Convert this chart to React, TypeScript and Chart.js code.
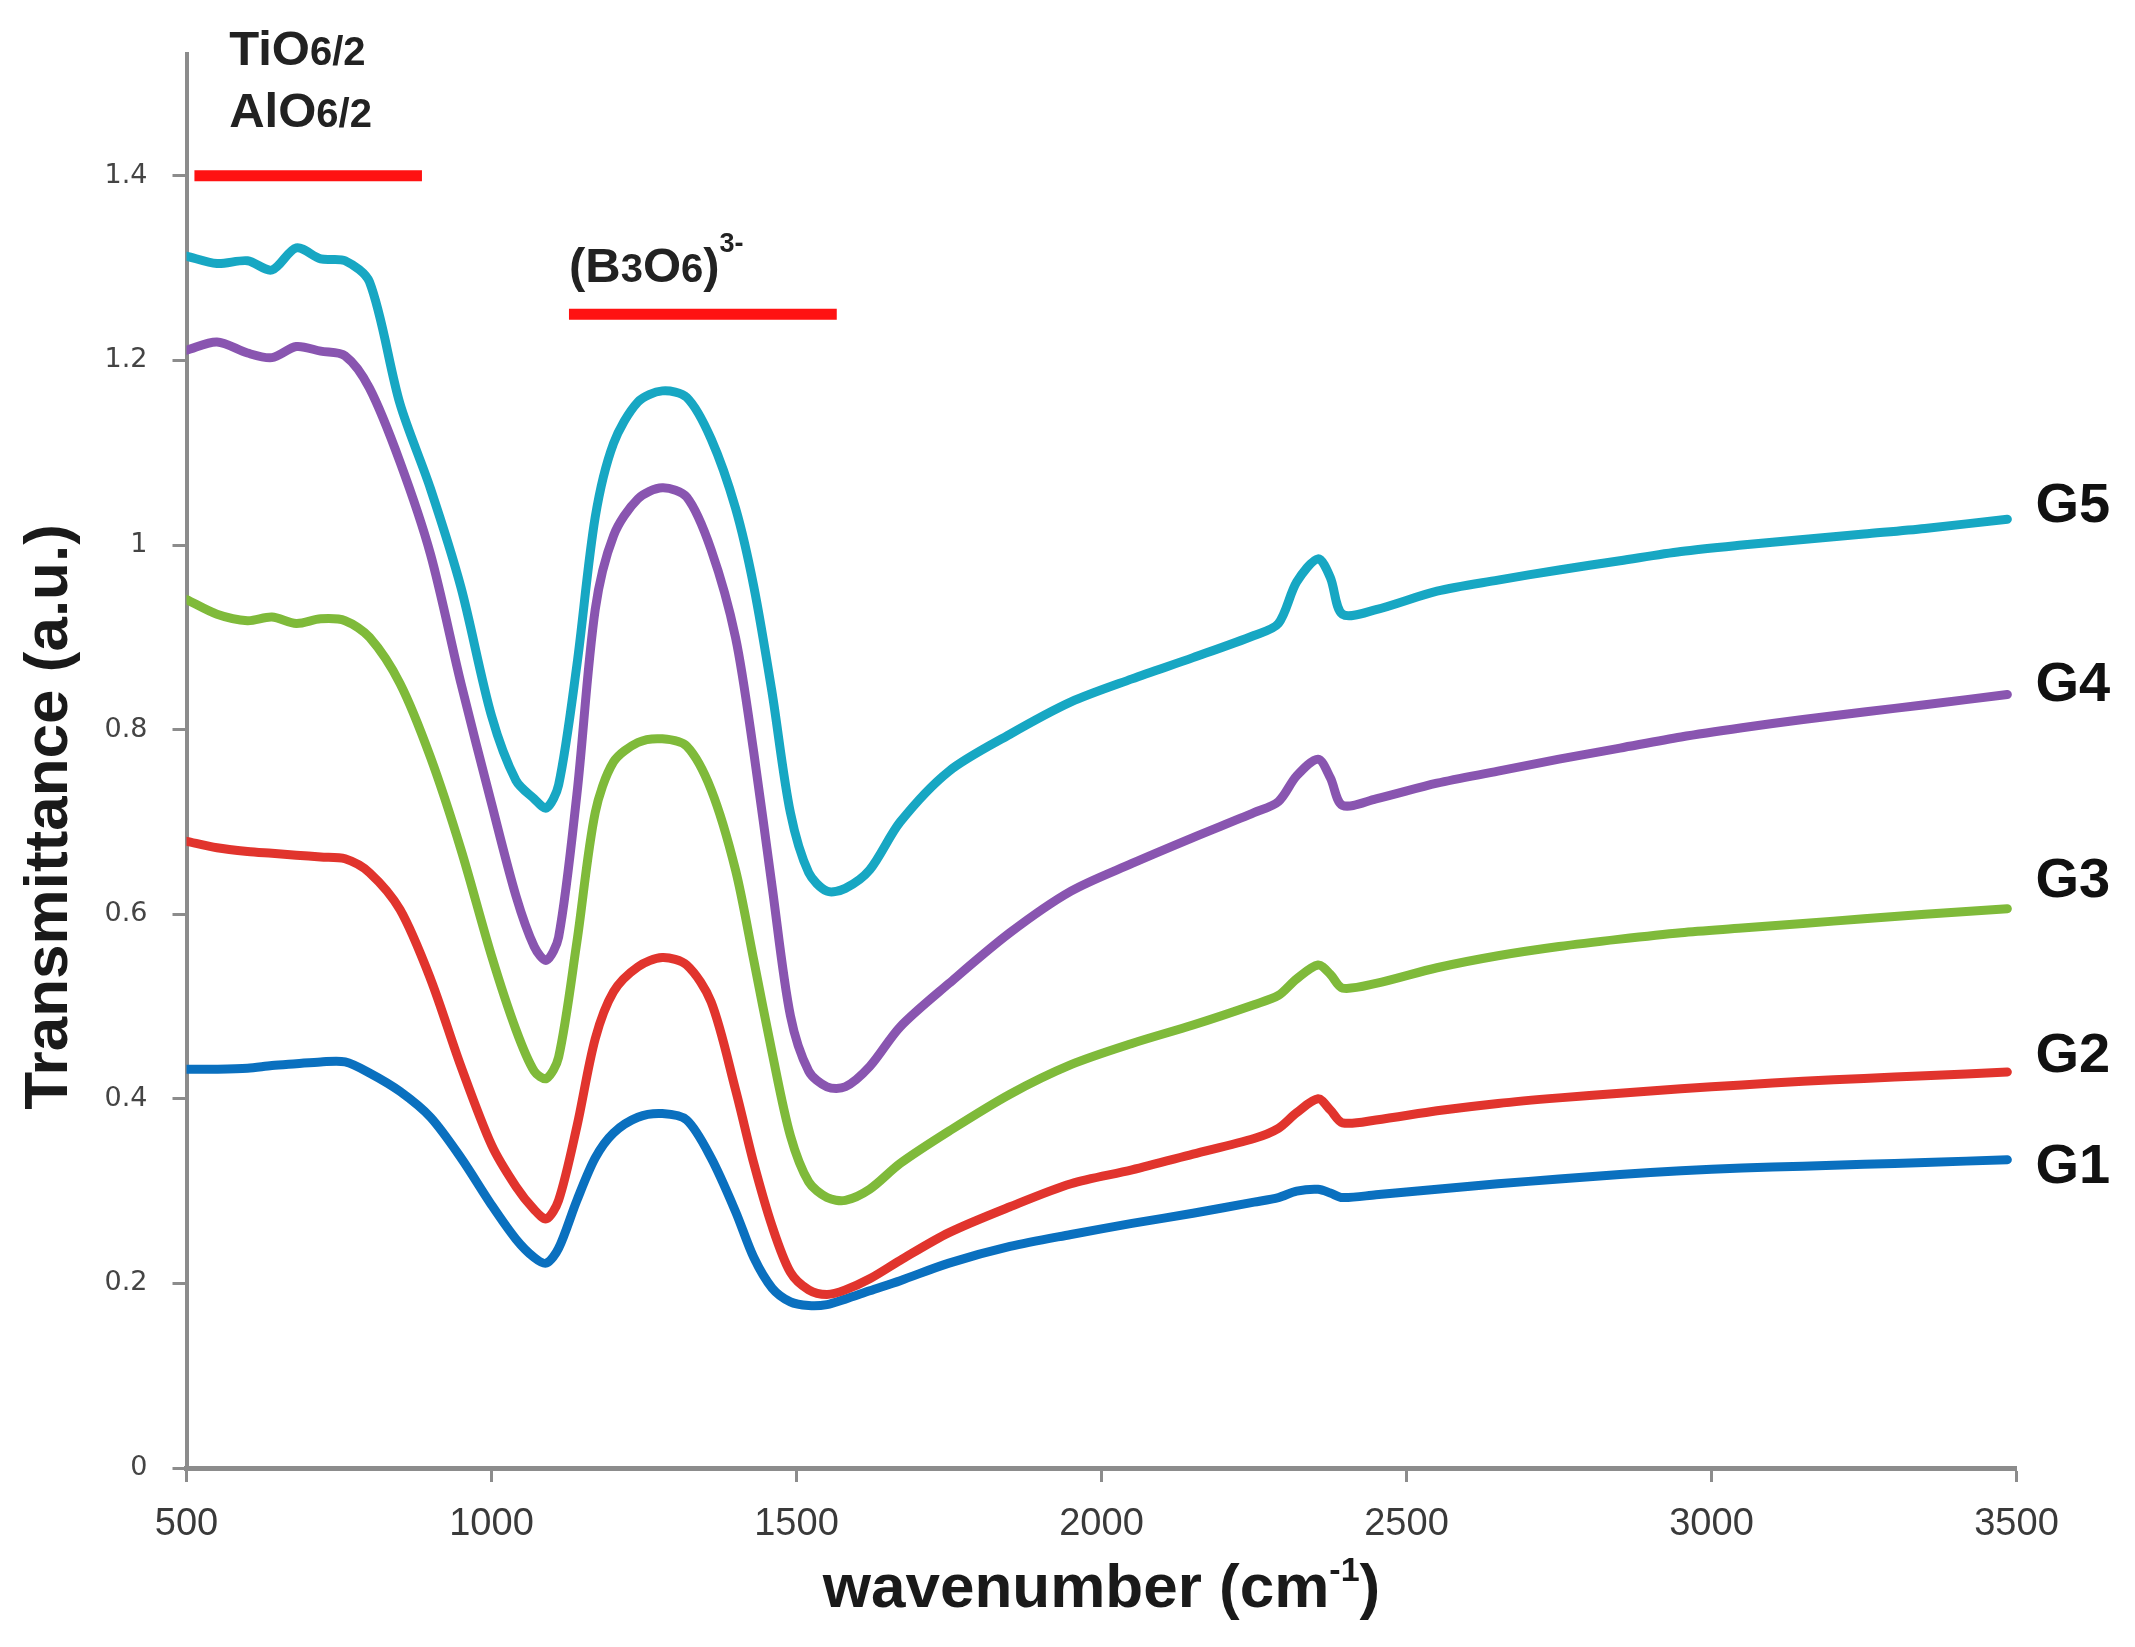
import React, { useEffect, useRef } from "react";
import { Chart, registerables } from "chart.js";

Chart.register(...registerables);

// ---------- data ----------
const WAVENUMBER = [
  500, 550, 600, 640, 680, 720, 760, 800, 850, 900, 950, 1000, 1040, 1070, 1090, 1110, 1140, 1170,
  1200, 1240, 1280, 1320, 1360, 1400, 1430, 1460, 1490, 1520, 1550, 1580, 1620, 1670, 1750, 1850,
  1950, 2050, 2150, 2250, 2290, 2320, 2355, 2375, 2395, 2450, 2550, 2650, 2750, 2850, 2950, 3050,
  3150, 3250, 3350, 3485,
];

const G5 = [
  1.313, 1.305, 1.308, 1.298, 1.322, 1.31, 1.308, 1.285, 1.153, 1.061, 0.954, 0.815, 0.745, 0.725,
  0.715, 0.74, 0.87, 1.03, 1.11, 1.155, 1.167, 1.16, 1.115, 1.04, 0.955, 0.84, 0.71, 0.645, 0.625,
  0.628, 0.648, 0.7, 0.755, 0.795, 0.83, 0.855, 0.878, 0.902, 0.915, 0.96, 0.985, 0.965, 0.925,
  0.93, 0.95, 0.962, 0.973, 0.983, 0.993, 1.0, 1.006, 1.012, 1.018, 1.028,
];

const G4 = [
  1.211, 1.22, 1.208, 1.203, 1.215, 1.21, 1.205, 1.17, 1.09, 0.99, 0.85, 0.72, 0.62, 0.565, 0.55,
  0.575, 0.73, 0.93, 1.01, 1.05, 1.062, 1.052, 0.995, 0.9, 0.775, 0.63, 0.49, 0.43, 0.413, 0.413,
  0.435, 0.478, 0.525, 0.58, 0.625, 0.655, 0.683, 0.71, 0.722, 0.75, 0.768, 0.748, 0.718, 0.725,
  0.742, 0.755, 0.768, 0.78, 0.792, 0.802, 0.811, 0.819, 0.827, 0.838,
];

const G3 = [
  0.941, 0.925, 0.918, 0.922, 0.915, 0.92, 0.918, 0.9, 0.85, 0.77, 0.67, 0.555, 0.475, 0.43, 0.422,
  0.445, 0.57, 0.71, 0.765, 0.786, 0.79, 0.782, 0.735, 0.648, 0.55, 0.45, 0.36, 0.31, 0.293, 0.29,
  0.302, 0.33, 0.365, 0.405, 0.437, 0.46, 0.48, 0.502, 0.512, 0.53, 0.545, 0.535, 0.52, 0.525,
  0.542, 0.555, 0.565, 0.573, 0.58, 0.585, 0.59, 0.595, 0.6, 0.606,
];

const G2 = [
  0.679, 0.672, 0.668, 0.666, 0.664, 0.662, 0.66, 0.645, 0.605, 0.53, 0.435, 0.35, 0.305, 0.28,
  0.27, 0.29, 0.37, 0.465, 0.516, 0.543, 0.553, 0.545, 0.505, 0.41, 0.33, 0.262, 0.212, 0.193,
  0.188, 0.193, 0.205, 0.225, 0.255, 0.283, 0.308, 0.323, 0.34, 0.357, 0.368, 0.385, 0.4, 0.388,
  0.374, 0.377, 0.387, 0.395, 0.401, 0.406, 0.411, 0.415, 0.419, 0.422, 0.425, 0.429,
];

const G1 = [
  0.432, 0.432, 0.433, 0.436, 0.438, 0.44, 0.44, 0.428, 0.408, 0.38, 0.336, 0.285, 0.248, 0.228,
  0.222, 0.238, 0.29, 0.336, 0.363, 0.38, 0.384, 0.377, 0.336, 0.278, 0.228, 0.195, 0.18, 0.176,
  0.177, 0.183, 0.192, 0.203, 0.222, 0.24, 0.253, 0.265, 0.276, 0.288, 0.293, 0.3, 0.302, 0.298,
  0.293, 0.296, 0.302, 0.308, 0.313, 0.318, 0.322, 0.325, 0.327, 0.329, 0.331, 0.334,
];

const SERIES_NAMES = ["G5", "G4", "G3", "G2", "G1"];
const SERIES_VALUES = [G5, G4, G3, G2, G1];
const SERIES_COLORS = ["#17a7c3", "#8955b0", "#7fba3a", "#e1342d", "#0a70bf"];
const SERIES_LABEL_Y = [1.042, 0.848, 0.635, 0.446, 0.325];

const X_MIN = 500;
const X_MAX = 3500;
const X_STEP = 500;
const Y_MIN = 0;
const Y_MAX = 1.532;
const Y_TICKS = [0, 0.2, 0.4, 0.6, 0.8, 1, 1.2, 1.4];

// band annotations (red bars)
const BAND_X_START = [513, 1127];
const BAND_X_END = [886, 1566];
const BAND_Y = [1.4, 1.25];

// text annotations: rich parts (kind: n = normal, sub = small on baseline, sup = superscript)
const ANNOT_TEXTS = [
  [{ t: "TiO", k: "n" }, { t: "6/2", k: "sub" }],
  [{ t: "AlO", k: "n" }, { t: "6/2", k: "sub" }],
  [
    { t: "(B", k: "n" },
    { t: "3", k: "sub" },
    { t: "O", k: "n" },
    { t: "6", k: "sub" },
    { t: ")", k: "n" },
    { t: "3-", k: "sup" },
  ],
];
const ANNOT_X = [570, 570, 1127];
const ANNOT_Y = [1.52, 1.453, 1.285];

const X_TITLE = [
  { t: "wavenumber (cm", k: "n" },
  { t: "-1", k: "sup" },
  { t: ")", k: "n" },
];
const Y_TITLE = "Transmittance (a.u.)";

const SANS = '"Liberation Sans", Arial, Helvetica, sans-serif';
const NARROW = '"Liberation Sans Narrow", "Arial Narrow", "Liberation Sans", Arial, sans-serif';

type Part = { t: string; k: string };

function drawRich(
  ctx: CanvasRenderingContext2D,
  parts: Part[],
  x: number,
  y: number,
  sizes: { n: number; sub: number; sup: number; supDy: number },
  weight: string,
  align: "left" | "center"
) {
  const fontFor = (k: string) =>
    `${weight} ${k === "n" ? sizes.n : k === "sub" ? sizes.sub : sizes.sup}px ${SANS}`;
  let total = 0;
  for (const p of parts) {
    ctx.font = fontFor(p.k);
    total += ctx.measureText(p.t).width;
  }
  let cx = align === "center" ? x - total / 2 : x;
  ctx.textAlign = "left";
  ctx.textBaseline = "alphabetic";
  for (const p of parts) {
    ctx.font = fontFor(p.k);
    const dy = p.k === "sup" ? sizes.supDy : 0;
    ctx.fillText(p.t, cx, y + dy);
    cx += ctx.measureText(p.t).width;
  }
}

const overlayPlugin = {
  id: "overlay",
  afterDraw(chart: any) {
    const { ctx, chartArea } = chart;
    const xs = chart.scales.x;
    const ys = chart.scales.y;
    ctx.save();

    // red bars
    ctx.strokeStyle = "#ff1212";
    ctx.lineWidth = 11;
    ctx.lineCap = "butt";
    for (let i = 0; i < BAND_Y.length; i++) {
      const py = ys.getPixelForValue(BAND_Y[i]);
      ctx.beginPath();
      ctx.moveTo(xs.getPixelForValue(BAND_X_START[i]), py);
      ctx.lineTo(xs.getPixelForValue(BAND_X_END[i]), py);
      ctx.stroke();
    }

    // annotation texts
    ctx.fillStyle = "#222222";
    for (let i = 0; i < ANNOT_TEXTS.length; i++) {
      drawRich(
        ctx,
        ANNOT_TEXTS[i],
        xs.getPixelForValue(ANNOT_X[i]),
        ys.getPixelForValue(ANNOT_Y[i]),
        { n: 49, sub: 40, sup: 27, supDy: -30 },
        "bold",
        "left"
      );
    }

    // series labels
    ctx.fillStyle = "#111111";
    ctx.font = `bold 56px ${SANS}`;
    ctx.textAlign = "left";
    ctx.textBaseline = "middle";
    for (let i = 0; i < SERIES_NAMES.length; i++) {
      ctx.fillText(SERIES_NAMES[i], chartArea.right + 19, ys.getPixelForValue(SERIES_LABEL_Y[i]));
    }

    // x axis title
    ctx.fillStyle = "#1a1a1a";
    drawRich(
      ctx,
      X_TITLE,
      (chartArea.left + chartArea.right) / 2,
      chartArea.bottom + 139,
      { n: 62, sub: 36, sup: 34, supDy: -26 },
      "bold",
      "center"
    );

    // y axis title
    ctx.save();
    ctx.translate(50, chartArea.bottom - 651);
    ctx.rotate(-Math.PI / 2);
    ctx.font = `bold 62px ${SANS}`;
    ctx.textAlign = "center";
    ctx.textBaseline = "middle";
    ctx.fillText(Y_TITLE, 0, 0);
    ctx.restore();

    ctx.restore();
  },
};

export default function App() {
  const canvasRef = useRef<HTMLCanvasElement | null>(null);

  useEffect(() => {
    if (!canvasRef.current) return;
    const datasets = SERIES_NAMES.map((name, i) => ({
      label: name,
      data: WAVENUMBER.map((w, j) => ({ x: w, y: SERIES_VALUES[i][j] })),
      borderColor: SERIES_COLORS[i],
      backgroundColor: SERIES_COLORS[i],
      borderWidth: 9,
      pointRadius: 0,
      fill: false,
      tension: 0.3,
      borderCapStyle: "round" as const,
      borderJoinStyle: "round" as const,
    }));

    const chart = new Chart(canvasRef.current, {
      type: "line",
      data: { datasets },
      options: {
        animation: false,
        responsive: true,
        maintainAspectRatio: false,
        layout: { padding: { top: 54, right: 118.5, bottom: 0, left: 0 } },
        plugins: {
          legend: { display: false },
          tooltip: { enabled: false },
          title: { display: false },
        },
        scales: {
          x: {
            type: "linear",
            min: X_MIN,
            max: X_MAX,
            ticks: {
              stepSize: X_STEP,
              color: "#3a3a3a",
              font: { family: NARROW, size: 38 },
              padding: 20,
              maxRotation: 0,
              callback: (v: any) => String(v),
            },
            grid: {
              drawOnChartArea: false,
              drawTicks: true,
              tickLength: 14,
              tickColor: "#8c8c8c",
              tickWidth: 3,
            },
            border: { display: true, color: "#8c8c8c", width: 5 },
            afterFit: (scale: any) => {
              scale.height = 179;
            },
          },
          y: {
            type: "linear",
            min: Y_MIN,
            max: Y_MAX,
            afterBuildTicks: (scale: any) => {
              scale.ticks = Y_TICKS.map((v) => ({ value: v }));
            },
            ticks: {
              color: "#444444",
              font: { family: '"DejaVu Sans", Verdana, sans-serif', size: 27 },
              padding: 25,
              callback: (v: any) => String(Math.round(Number(v) * 10) / 10),
            },
            grid: {
              drawOnChartArea: false,
              drawTicks: true,
              tickLength: 14,
              tickColor: "#8c8c8c",
              tickWidth: 3,
            },
            border: { display: true, color: "#8c8c8c", width: 4 },
            afterFit: (scale: any) => {
              scale.width = 186.5;
            },
          },
        },
      },
      plugins: [overlayPlugin],
    });

    return () => chart.destroy();
  }, []);

  return (
    <div
      style={{
        position: "fixed",
        left: 0,
        top: 0,
        width: 2135,
        height: 1647,
        background: "#ffffff",
      }}
    >
      <canvas ref={canvasRef} />
    </div>
  );
}
